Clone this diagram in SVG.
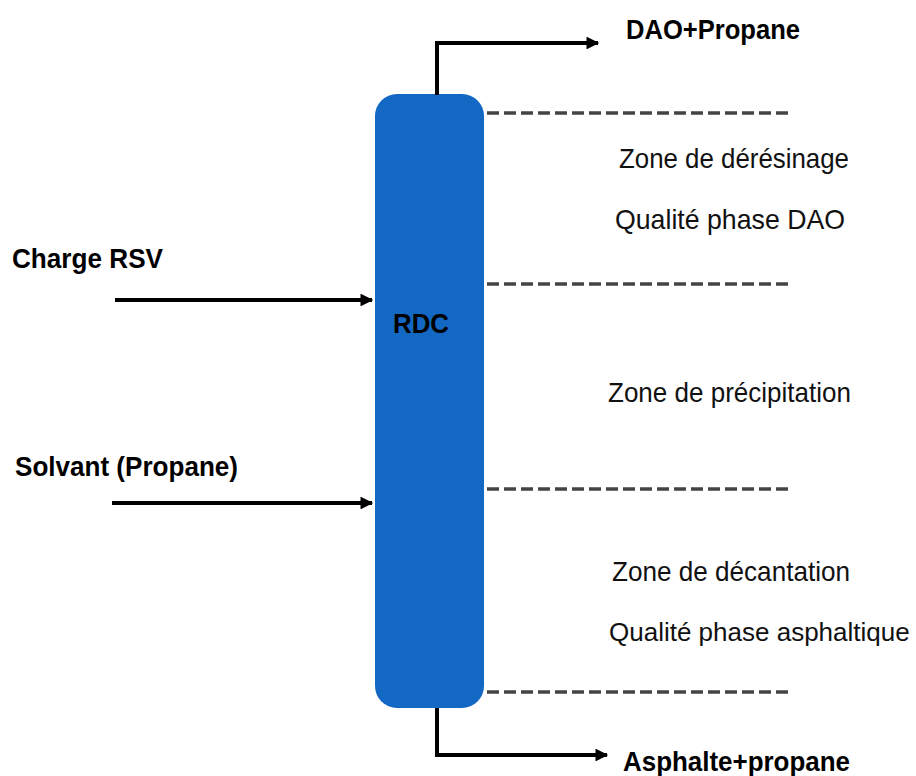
<svg xmlns="http://www.w3.org/2000/svg" width="916" height="776" viewBox="0 0 916 776">
<defs>
<marker id="arr" viewBox="0 0 10 10" refX="9" refY="5" markerWidth="3.5" markerHeight="3.2" markerUnits="strokeWidth" orient="auto">
<path d="M0,0 L10,5 L0,10 Z" fill="#000"/>
</marker>
<style>
.b{font-family:"Liberation Sans",Arial,sans-serif;font-weight:bold;font-size:28px;fill:#000}
.r{font-family:"Liberation Sans",Arial,sans-serif;font-size:28px;fill:#111}
.flow{fill:none;stroke:#000;stroke-width:4;marker-end:url(#arr)}
.dash{fill:none;stroke:#444;stroke-width:3.5;stroke-dasharray:12 5}
</style>
</defs>
<rect width="916" height="776" fill="#fff"/>
<g id="rdc">
<rect x="375" y="94" width="109" height="614" rx="22" ry="22" fill="#1368C4"/>
<text class="b" x="393" y="333" textLength="56" lengthAdjust="spacingAndGlyphs">RDC</text>
</g>
<g id="connectors">
<path class="flow" d="M437,95 V43 H598"/>
<path class="flow" d="M437,708 V755 H607"/>
<path class="flow" d="M115,300 H372"/>
<path class="flow" d="M112,503 H372"/>
<path class="dash" d="M487,113 H790"/>
<path class="dash" d="M487,284 H790"/>
<path class="dash" d="M487,489 H790"/>
<path class="dash" d="M487,692 H790"/>
</g>
<g id="labels">
<text class="b" x="626" y="39" textLength="174" lengthAdjust="spacingAndGlyphs">DAO+Propane</text>
<text class="b" x="12" y="268" textLength="151" lengthAdjust="spacingAndGlyphs">Charge RSV</text>
<text class="b" x="15" y="476" textLength="223" lengthAdjust="spacingAndGlyphs">Solvant (Propane)</text>
<text class="b" x="623" y="771" textLength="227" lengthAdjust="spacingAndGlyphs">Asphalte+propane</text>
</g>
<g id="zones">
<text class="r" x="619" y="168" textLength="230" lengthAdjust="spacingAndGlyphs">Zone de dérésinage</text>
<text class="r" x="615" y="229" textLength="230" lengthAdjust="spacingAndGlyphs">Qualité phase DAO</text>
<text class="r" x="608" y="402" textLength="243" lengthAdjust="spacingAndGlyphs">Zone de précipitation</text>
<text class="r" x="612" y="581" textLength="238" lengthAdjust="spacingAndGlyphs">Zone de décantation</text>
<text class="r" x="609" y="641" style="font-size:26px">Qualité phase asphaltique</text>
</g>
</svg>
